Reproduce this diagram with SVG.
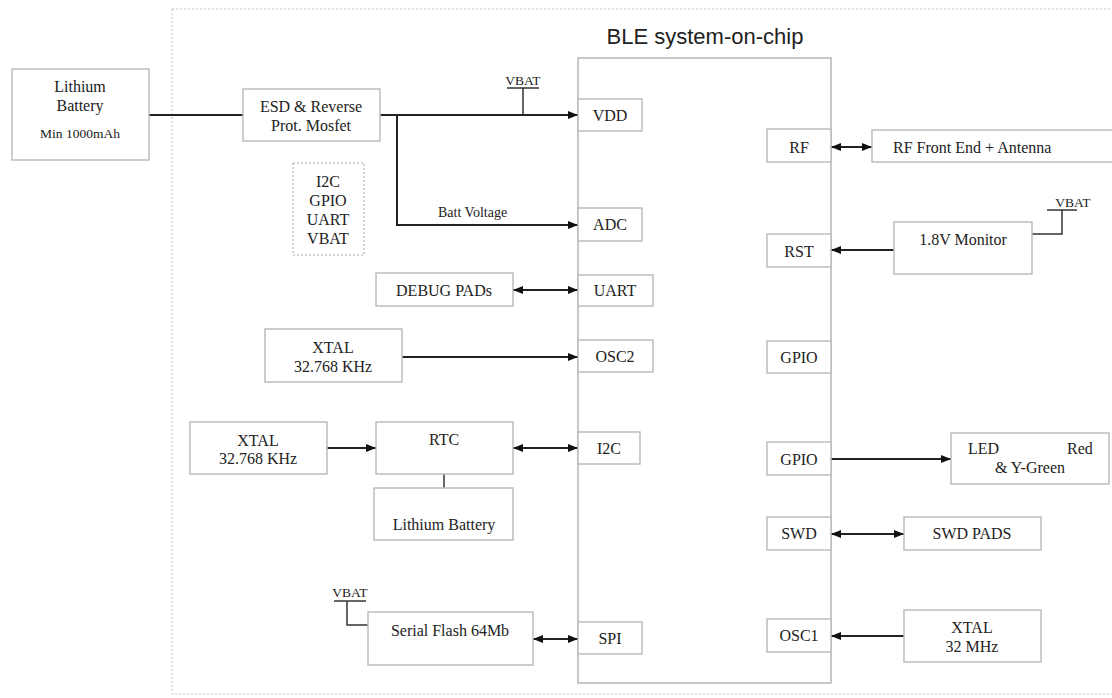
<svg xmlns="http://www.w3.org/2000/svg" width="1112" height="698" viewBox="0 0 1112 698">
<defs>
<marker id="ah" viewBox="0 0 10 8" refX="10" refY="4" markerWidth="10" markerHeight="8" markerUnits="userSpaceOnUse" orient="auto-start-reverse">
<path d="M0,0 L10,4 L0,8 Z" fill="#111"/>
</marker>
<style>
.box{fill:#fff;stroke:#bdbdbd;stroke-width:1.5}
.chip{fill:none;stroke:#b5b5b5;stroke-width:1.5}
.dash{fill:none;stroke:#c4c4c4;stroke-width:1;stroke-dasharray:2,2}
.t{font-family:"Liberation Serif","Times New Roman",serif;font-size:16px;fill:#222;text-anchor:middle}
.s{font-size:14px}
.xs{font-size:13.5px}
.w{stroke:#222;stroke-width:2;fill:none}
.a{marker-end:url(#ah)}
.b{marker-start:url(#ah);marker-end:url(#ah)}
.thin{stroke:#333;stroke-width:1.5;fill:none}
</style>
</defs>
<rect width="1112" height="698" fill="#fff"/>
<rect class="dash" x="172" y="9" width="960" height="685"/>
<text x="705" y="44" style="font-family:'Liberation Sans',Arial,sans-serif;font-size:22px;fill:#222;text-anchor:middle">BLE system-on-chip</text>
<g id="chip"><rect class="chip" x="578" y="58" width="253" height="625"/></g>

<g id="connectors">
<line class="w" x1="149" y1="115" x2="243" y2="115"/>
<line class="w a" x1="380" y1="115" x2="578" y2="115"/>
<polyline class="w a" points="397,115 397,225 578,225"/>
<line class="thin" x1="523" y1="88" x2="523" y2="115"/>
<line class="thin" x1="507" y1="88" x2="539" y2="88"/>
<line class="w b" x1="513" y1="290" x2="578" y2="290"/>
<line class="w a" x1="402" y1="357" x2="578" y2="357"/>
<line class="w a" x1="327" y1="448" x2="376" y2="448"/>
<line class="w b" x1="513" y1="448" x2="578" y2="448"/>
<line class="thin" x1="444" y1="474" x2="444" y2="488"/>
<line class="w b" x1="533" y1="639" x2="578" y2="639"/>
<polyline class="thin" points="347,601 347,625 368,625"/>
<line class="thin" x1="334" y1="601" x2="366" y2="601"/>
<line class="w b" x1="831" y1="147" x2="872" y2="147"/>
<line class="w a" x1="894" y1="250" x2="831" y2="250"/>
<polyline class="thin" points="1032,234 1062,234 1062,210"/>
<line class="thin" x1="1047" y1="210" x2="1077" y2="210"/>
<line class="w a" x1="831" y1="459" x2="951" y2="459"/>
<line class="w b" x1="831" y1="534" x2="904" y2="534"/>
<line class="w a" x1="904" y1="636" x2="831" y2="636"/>
</g>
<text class="t xs" x="523" y="85">VBAT</text>
<text class="t s" x="438" y="217" style="text-anchor:start">Batt Voltage</text>
<text class="t xs" x="350" y="597">VBAT</text>
<text class="t xs" x="1073" y="207">VBAT</text>

<g id="battery"><rect class="box" x="12" y="69" width="137" height="91"/>
<text class="t" x="80" y="92">Lithium</text><text class="t" x="80" y="111">Battery</text><text class="t xs" x="80" y="138">Min 1000mAh</text></g>
<g id="esd"><rect class="box" x="243" y="89" width="137" height="52"/>
<text class="t" x="311" y="112">ESD &amp; Reverse</text><text class="t" x="311" y="131">Prot. Mosfet</text></g>
<g id="ifaces"><rect class="dash" x="293" y="163" width="71" height="92" style="stroke:#aaa"/>
<text class="t" x="328" y="187">I2C</text><text class="t" x="328" y="206">GPIO</text><text class="t" x="328" y="225">UART</text><text class="t" x="328" y="244">VBAT</text></g>
<g id="vdd"><rect class="box" x="578" y="99" width="64" height="32"/><text class="t" x="610" y="121">VDD</text></g>
<g id="adc"><rect class="box" x="578" y="208" width="64" height="33"/><text class="t" x="610" y="230">ADC</text></g>
<g id="uart"><rect class="box" x="578" y="275" width="75" height="31"/><text class="t" x="615" y="296">UART</text></g>
<g id="osc2"><rect class="box" x="578" y="340" width="75" height="32"/><text class="t" x="615" y="362">OSC2</text></g>
<g id="i2c"><rect class="box" x="578" y="432" width="62" height="32"/><text class="t" x="609" y="454">I2C</text></g>
<g id="spi"><rect class="box" x="578" y="622" width="64" height="32"/><text class="t" x="610" y="644">SPI</text></g>
<g id="debug"><rect class="box" x="376" y="273" width="137" height="33"/><text class="t" x="444" y="296">DEBUG PADs</text></g>
<g id="xtal1"><rect class="box" x="265" y="329" width="137" height="53"/><text class="t" x="333" y="353">XTAL</text><text class="t" x="333" y="372">32.768 KHz</text></g>
<g id="xtal2"><rect class="box" x="190" y="422" width="137" height="52"/><text class="t" x="258" y="446">XTAL</text><text class="t" x="258" y="464">32.768 KHz</text></g>
<g id="rtc"><rect class="box" x="376" y="422" width="137" height="52"/><text class="t" x="444" y="445">RTC</text></g>
<g id="battery2"><rect class="box" x="374" y="488" width="139" height="52"/><text class="t" x="444" y="530">Lithium Battery</text></g>
<g id="flash"><rect class="box" x="368" y="612" width="165" height="53"/><text class="t" x="450" y="636">Serial Flash 64Mb</text></g>
<g id="rf"><rect class="box" x="767" y="129" width="64" height="33"/><text class="t" x="799" y="153">RF</text></g>
<g id="rfe"><rect class="box" x="872" y="130" width="250" height="32"/><text class="t" x="893" y="153" style="text-anchor:start">RF Front End + Antenna</text></g>
<g id="rst"><rect class="box" x="767" y="234" width="64" height="33"/><text class="t" x="799" y="257">RST</text></g>
<g id="mon"><rect class="box" x="894" y="222" width="138" height="52"/><text class="t" x="963" y="245">1.8V Monitor</text></g>
<g id="gpio1"><rect class="box" x="767" y="341" width="64" height="32"/><text class="t" x="799" y="363">GPIO</text></g>
<g id="gpio2"><rect class="box" x="767" y="442" width="64" height="33"/><text class="t" x="799" y="465">GPIO</text></g>
<g id="led"><rect class="box" x="951" y="433" width="158" height="51"/><text class="t" x="968" y="454" style="text-anchor:start">LED</text><text class="t" x="1067" y="454" style="text-anchor:start">Red</text><text class="t" x="1030" y="473">&amp; Y-Green</text></g>
<g id="swd"><rect class="box" x="767" y="517" width="64" height="33"/><text class="t" x="799" y="539">SWD</text></g>
<g id="swdpads"><rect class="box" x="904" y="517" width="137" height="33"/><text class="t" x="972" y="539">SWD PADS</text></g>
<g id="osc1"><rect class="box" x="767" y="619" width="64" height="33"/><text class="t" x="799" y="641">OSC1</text></g>
<g id="xtal3"><rect class="box" x="904" y="610" width="137" height="52"/><text class="t" x="972" y="633">XTAL</text><text class="t" x="972" y="652">32 MHz</text></g>
</svg>
